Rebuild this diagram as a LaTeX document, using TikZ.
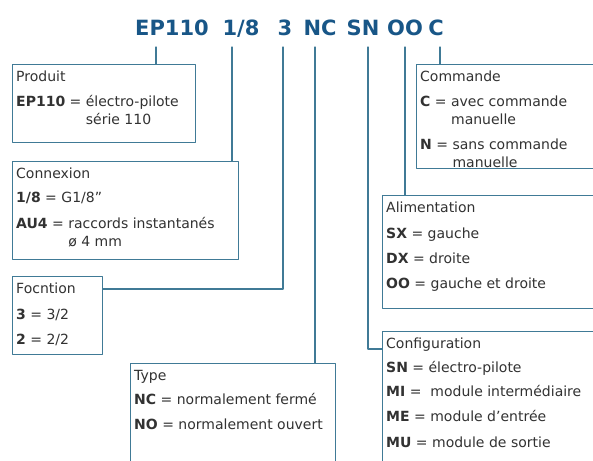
\documentclass[tikz,border=0pt]{standalone}
\usepackage{fontspec}
\setmainfont{DejaVu Sans}
\usetikzlibrary{positioning}
\definecolor{cadre}{RGB}{64,122,150}
\definecolor{titre}{RGB}{24,86,135}
\definecolor{texte}{RGB}{50,50,50}

\begin{document}
\begin{tikzpicture}[line cap=round,line join=round,x=1pt,y=-1pt,
    boite/.style={draw=cadre,line width=1.1pt,fill=white,anchor=north west,inner sep=0pt},
    liste/.style={anchor=north west,inner sep=0pt,text=texte,align=left,
      font=\fontsize{14}{18}\selectfont},
    code/.style={anchor=base,inner sep=0pt,text=titre,
      font=\fontsize{21}{21}\selectfont\bfseries},
    lien/.style={draw=cadre,line width=1.1pt}]
    \useasboundingbox (0,0) rectangle (593,460);
    \clip (0,0) rectangle (593,460);
    % reference code
    \node[code] (c1) at (172,36) {EP110};
    \node[code] (c2) at (241,36) {1/8};
    \node[code] (c3) at (285,36) {3};
    \node[code] (c4) at (320,36) {NC};
    \node[code] (c5) at (363,36) {SN};
    \node[code] (c6) at (405,36) {OO};
    \node[code] (c7) at (436,36) {C};
    \coordinate (t1) at (156,47);
    \coordinate (t2) at (232,47);
    \coordinate (t3) at (283,47);
    \coordinate (t4) at (315,47);
    \coordinate (t5) at (368,47);
    \coordinate (t6) at (405,47);
    \coordinate (t7) at (440,47);
    % boxes
    \node[boite,minimum width=183,minimum height=78] (prod) at (12,64) {};
    \node[boite,minimum width=226,minimum height=98] (conn) at (12,161) {};
    \node[boite,minimum width=90,minimum height=78] (fonc) at (12,276) {};
    \node[boite,minimum width=205,minimum height=107] (type) at (130,363) {};
    \node[boite,minimum width=184,minimum height=104] (cmd) at (416,64) {};
    \node[boite,minimum width=218,minimum height=113] (alim) at (382,195) {};
    \node[boite,minimum width=218,minimum height=139] (conf) at (382,331) {};
    % connectors
    \draw[lien] (t1) -- (t1 |- prod.north);
    \draw[lien] (t2) -- (t2 |- conn.north);
    \draw[lien] (t3) |- ([yshift=-13pt]fonc.north east);
    \draw[lien] (t4) -- (t4 |- type.north);
    \draw[lien] (t5) |- ([yshift=-18pt]conf.north west);
    \draw[lien] (t6) -- (t6 |- alim.north);
    \draw[lien] (t7) -- (t7 |- cmd.north);
    % texts
    \node[liste] (prod-t) at ([shift={(4,7)}]prod.north west)
      {Produit\\[7pt]
       \textbf{EP110} = électro-pilote\\
       \phantom{\textbf{EP110} = }série 110};
    \node[liste] (conn-t) at ([shift={(4,7)}]conn.north west)
      {Connexion\\[6pt]
       \textbf{1/8} = G1/8\symbol{34}\\[8pt]
       \textbf{AU4} = raccords instantanés\\
       \phantom{\textbf{AU4} = }ø 4 mm};
    \node[liste] (fonc-t) at ([shift={(4,7)}]fonc.north west)
      {Focntion\\[8pt]
       \textbf{3} = 3/2\\[7pt]
       \textbf{2} = 2/2};
    \node[liste] (type-t) at ([shift={(4,7)}]type.north west)
      {Type\\[6pt]
       \textbf{NC} = normalement fermé\\[7pt]
       \textbf{NO} = normalement ouvert};
    \node[liste] (cmd-t) at ([shift={(4,7)}]cmd.north west)
      {Commande\\[7pt]
       \textbf{C} = avec commande\\
       \phantom{\textbf{C} = }manuelle\\[7pt]
       \textbf{N} = sans commande\\
       \phantom{\textbf{N} = }manuelle};
    \node[liste] (alim-t) at ([shift={(4,7)}]alim.north west)
      {Alimentation\\[8pt]
       \textbf{SX} = gauche\\[7pt]
       \textbf{DX} = droite\\[7pt]
       \textbf{OO} = gauche et droite};
    \node[liste] (conf-t) at ([shift={(4,7)}]conf.north west)
      {Configuration\\[6pt]
       \textbf{SN} = électro-pilote\\[6pt]
       \textbf{MI} =\ \ module intermédiaire\\[7pt]
       \textbf{ME} = module d'entrée\\[8pt]
       \textbf{MU} = module de sortie};
  \end{tikzpicture}
\end{document}
